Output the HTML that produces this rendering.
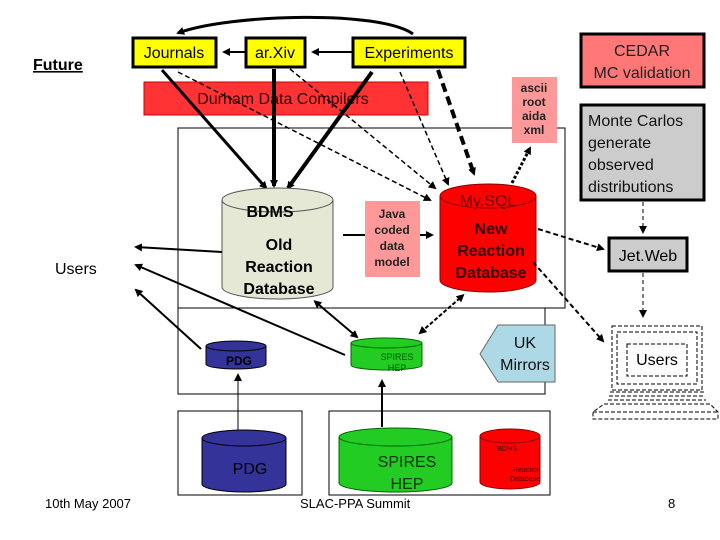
<!DOCTYPE html>
<html><head><meta charset="utf-8"><style>
html,body{margin:0;padding:0;background:#fff;}
svg{display:block;font-family:"Liberation Sans",Arial,sans-serif;}
</style></head><body>
<svg width="720" height="540" viewBox="0 0 720 540" xmlns="http://www.w3.org/2000/svg">
<defs>
<marker id="ah" markerWidth="8" markerHeight="8" refX="6" refY="4" orient="auto" markerUnits="userSpaceOnUse"><path d="M0,0 L8,4 L0,8 z" fill="#000"/></marker>
<marker id="ahs" markerWidth="8" markerHeight="8" refX="2" refY="4" orient="auto-start-reverse" markerUnits="userSpaceOnUse"><path d="M0,0 L8,4 L0,8 z" fill="#000"/></marker>
</defs>

<!-- frames -->
<rect x="178" y="128" width="387" height="180" fill="none" stroke="#000" stroke-width="1"/>
<rect x="178" y="308" width="367" height="86" fill="none" stroke="#000" stroke-width="1"/>
<rect x="178" y="411" width="124" height="84" fill="none" stroke="#000" stroke-width="1"/>
<rect x="329" y="411" width="221" height="84" fill="none" stroke="#000" stroke-width="1"/>

<!-- Durham bar -->
<rect x="144" y="82" width="284" height="33" fill="#f33" stroke="#c00" stroke-width="1"/>
<text x="283" y="104" font-size="16" text-anchor="middle" fill="#300">Durham Data Compilers</text>

<!-- top boxes -->
<rect x="133" y="38" width="83" height="29" fill="#ff0" stroke="#000" stroke-width="3"/>
<text x="174" y="58" font-size="16" text-anchor="middle">Journals</text>
<rect x="246" y="38" width="59" height="29" fill="#ff0" stroke="#000" stroke-width="3"/>
<text x="275" y="58" font-size="16" text-anchor="middle">ar.Xiv</text>
<rect x="353" y="38" width="112" height="29" fill="#ff0" stroke="#000" stroke-width="3"/>
<text x="409" y="58" font-size="16" text-anchor="middle">Experiments</text>

<path d="M413,34 C380,10 230,14 178,33" fill="none" stroke="#000" stroke-width="3" marker-end="url(#ah)"/>
<line x1="245" y1="52" x2="224" y2="52" stroke="#000" stroke-width="2" marker-end="url(#ah)"/>
<line x1="352" y1="52" x2="313" y2="52" stroke="#000" stroke-width="2" marker-end="url(#ah)"/>

<!-- solid arrows to BDMS -->
<line x1="162" y1="70" x2="266" y2="188" stroke="#000" stroke-width="3" marker-end="url(#ah)"/>
<line x1="274" y1="69" x2="274" y2="186" stroke="#000" stroke-width="4" marker-end="url(#ah)"/>
<line x1="372" y1="72" x2="288" y2="188" stroke="#000" stroke-width="4" marker-end="url(#ah)"/>

<!-- dashed arrows to MySQL -->
<g stroke="#000" stroke-width="1.5" stroke-dasharray="5,3" fill="none">
<line x1="178" y1="72" x2="430" y2="200" marker-end="url(#ah)"/>
<line x1="290" y1="69" x2="435" y2="188" marker-end="url(#ah)"/>
<line x1="400" y1="72" x2="448" y2="184" marker-end="url(#ah)"/>
</g>
<line x1="438" y1="70" x2="474" y2="174" stroke="#000" stroke-width="4" stroke-dasharray="9,5" marker-end="url(#ah)"/>
<line x1="512" y1="183" x2="530" y2="148" stroke="#000" stroke-width="3" stroke-dasharray="3,2" marker-end="url(#ah)"/>

<!-- ascii box -->
<rect x="512" y="77" width="45" height="66" fill="#f99"/>
<text font-size="12" font-weight="bold" text-anchor="middle" fill="#222"><tspan x="534" y="92">ascii</tspan><tspan x="534" y="106">root</tspan><tspan x="534" y="120">aida</tspan><tspan x="534" y="134">xml</tspan></text>

<!-- BDMS cylinder -->
<path d="M222,200 L222,287 A55.5,12 0 0 0 333,287 L333,200" fill="#e6e8d6" stroke="#555" stroke-width="1"/>
<ellipse cx="277.5" cy="200" rx="55.5" ry="12" fill="#e6e8d6" stroke="#555" stroke-width="1"/>
<text x="270" y="217" font-size="16" font-weight="bold" text-anchor="middle">BDMS</text>
<text font-size="16" font-weight="bold" text-anchor="middle"><tspan x="279" y="250">Old</tspan><tspan x="279" y="272">Reaction</tspan><tspan x="279" y="294">Database</tspan></text>

<!-- Java box -->
<line x1="343" y1="235" x2="432" y2="235" stroke="#000" stroke-width="2" marker-end="url(#ah)"/>
<rect x="365" y="201" width="55" height="76" fill="#f99"/>
<text font-size="12" font-weight="bold" text-anchor="middle" fill="#222"><tspan x="392" y="218">Java</tspan><tspan x="392" y="234">coded</tspan><tspan x="392" y="250">data</tspan><tspan x="392" y="266">model</tspan></text>

<!-- MySQL cylinder -->
<path d="M440,196 L440,280 A48,12 0 0 0 536,280 L536,196" fill="#f00" stroke="#800" stroke-width="1"/>
<ellipse cx="488" cy="196" rx="48" ry="12" fill="#f00" stroke="#800" stroke-width="1"/>
<text x="488" y="206" font-size="16" text-anchor="middle" fill="#600">My.SQL</text>
<text font-size="16" font-weight="bold" text-anchor="middle" fill="#300"><tspan x="491" y="234">New</tspan><tspan x="491" y="256">Reaction</tspan><tspan x="491" y="278">Database</tspan></text>

<!-- right side boxes -->
<rect x="581" y="34" width="123" height="53" fill="#f77" stroke="#000" stroke-width="3"/>
<text font-size="16" text-anchor="middle" fill="#222"><tspan x="642" y="56">CEDAR</tspan><tspan x="642" y="78">MC validation</tspan></text>
<rect x="581" y="105" width="123" height="95" fill="#ccc" stroke="#000" stroke-width="3"/>
<text font-size="16" fill="#111"><tspan x="588" y="126">Monte Carlos</tspan><tspan x="588" y="148">generate</tspan><tspan x="588" y="170">observed</tspan><tspan x="588" y="192">distributions</tspan></text>
<rect x="609" y="238" width="78" height="33" fill="#ccc" stroke="#000" stroke-width="3"/>
<text x="648" y="261" font-size="16" text-anchor="middle">Jet.Web</text>
<g stroke="#000" stroke-width="1" stroke-dasharray="4,3" fill="none">
<line x1="643" y1="202" x2="643" y2="232" marker-end="url(#ah)"/>
<line x1="643" y1="273" x2="643" y2="316" marker-end="url(#ah)"/>
</g>
<g stroke="#000" stroke-width="2" stroke-dasharray="5,3" fill="none">
<line x1="538" y1="229" x2="603" y2="249" marker-end="url(#ah)"/>
<line x1="533" y1="262" x2="603" y2="341" marker-end="url(#ah)"/>
</g>

<!-- laptop -->
<g stroke="#000" stroke-width="1" stroke-dasharray="4,2" fill="none">
<rect x="612" y="326" width="90" height="64"/>
<rect x="617" y="332" width="80" height="52"/>
<rect x="627" y="344" width="60" height="32"/>
<path d="M610,392 L704,392 M609,396 L705,396 M608,400 L706,400 M604,404 L710,404 L718,412 L718,419 L593,419 L593,412 L604,404 M593,412 L718,412"/>
</g>
<text x="657" y="365" font-size="16" text-anchor="middle">Users</text>

<!-- UK Mirrors -->
<path d="M498,325 L555,325 L555,382 L498,382 L480,354 Z" fill="#add8e6" stroke="#666" stroke-width="1"/>
<text font-size="16" text-anchor="middle" fill="#111"><tspan x="525" y="348">UK</tspan><tspan x="525" y="370">Mirrors</tspan></text>

<!-- small PDG -->
<path d="M206,346 L206,364 A30,5 0 0 0 266,364 L266,346" fill="#333399" stroke="#000" stroke-width="1"/>
<ellipse cx="236" cy="346" rx="30" ry="5" fill="#333399" stroke="#000" stroke-width="1"/>
<text x="239" y="365" font-size="12" font-weight="bold" text-anchor="middle" fill="#000">PDG</text>

<!-- small SPIRES -->
<path d="M351,343 L351,365 A35.5,5 0 0 0 422,365 L422,343" fill="#2c2" stroke="#060" stroke-width="1"/>
<ellipse cx="386.5" cy="343" rx="35.5" ry="5" fill="#2c2" stroke="#060" stroke-width="1"/>
<text font-size="9" text-anchor="middle" fill="#050"><tspan x="397" y="360">SPIRES</tspan><tspan x="397" y="371">HEP</tspan></text>

<!-- arrows in middle region -->
<line x1="318" y1="304" x2="357" y2="337" stroke="#000" stroke-width="2" marker-start="url(#ahs)" marker-end="url(#ah)"/>
<line x1="460" y1="298" x2="420" y2="333" stroke="#000" stroke-width="2" stroke-dasharray="4,2" marker-start="url(#ahs)" marker-end="url(#ah)"/>
<line x1="222" y1="252" x2="136" y2="247" stroke="#000" stroke-width="2" marker-end="url(#ah)"/>
<line x1="345" y1="355" x2="136" y2="265" stroke="#000" stroke-width="2" marker-end="url(#ah)"/>
<line x1="201" y1="349" x2="136" y2="290" stroke="#000" stroke-width="2" marker-end="url(#ah)"/>
<line x1="238" y1="434" x2="238" y2="375" stroke="#000" stroke-width="1" marker-end="url(#ah)"/>
<line x1="382" y1="427" x2="382" y2="381" stroke="#000" stroke-width="2" marker-end="url(#ah)"/>

<!-- big PDG -->
<path d="M202,438 L202,484 A42,8 0 0 0 286,484 L286,438" fill="#333399" stroke="#000" stroke-width="1"/>
<ellipse cx="244" cy="438" rx="42" ry="8" fill="#333399" stroke="#000" stroke-width="1"/>
<text x="250" y="474" font-size="16" text-anchor="middle" fill="#000">PDG</text>

<!-- big SPIRES -->
<path d="M339,437 L339,483 A56.5,9 0 0 0 452,483 L452,437" fill="#2c2" stroke="#060" stroke-width="1"/>
<ellipse cx="395.5" cy="437" rx="56.5" ry="9" fill="#2c2" stroke="#060" stroke-width="1"/>
<text font-size="16" text-anchor="middle" fill="#030"><tspan x="407" y="467">SPIRES</tspan><tspan x="407" y="489">HEP</tspan></text>

<!-- small red -->
<path d="M480,436 L480,482 A30,7 0 0 0 540,482 L540,436" fill="#f00" stroke="#800" stroke-width="1"/>
<ellipse cx="510" cy="436" rx="30" ry="7" fill="#f00" stroke="#800" stroke-width="1"/>
<text font-size="7" fill="#400"><tspan x="497" y="451">BDMS</tspan><tspan x="513" y="472">Reaction</tspan><tspan x="510" y="481">Database</tspan></text>

<!-- labels -->
<text x="33" y="70" font-size="16" font-weight="bold" text-decoration="underline">Future</text>
<text x="55" y="274" font-size="16">Users</text>
<text x="45" y="508" font-size="13">10th May 2007</text>
<text x="300" y="508" font-size="13">SLAC-PPA Summit</text>
<text x="668" y="508" font-size="13">8</text>
</svg>
</body></html>
